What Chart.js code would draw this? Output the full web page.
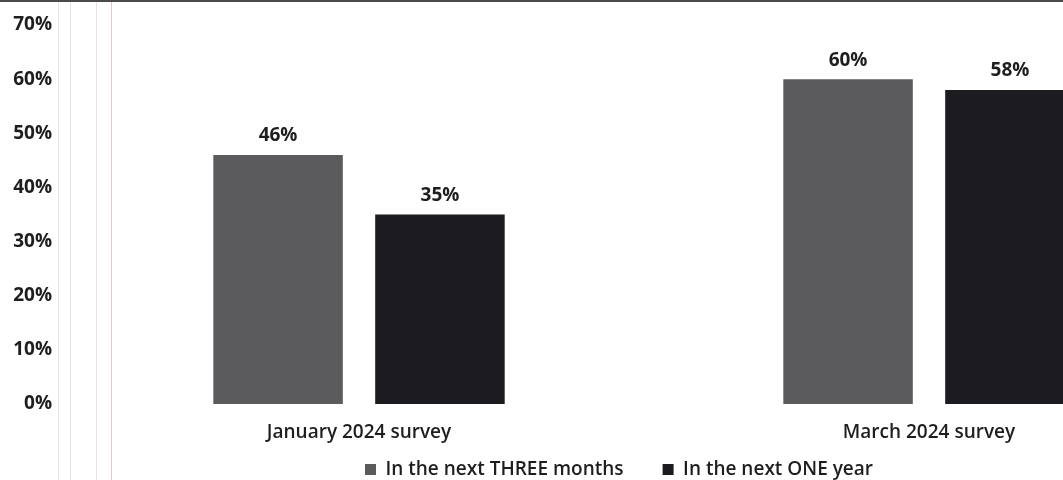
<!DOCTYPE html>
<html>
<head>
<meta charset="utf-8">
<script src="https://cdn.jsdelivr.net/npm/chart.js@4.4.1/dist/chart.umd.min.js"></script>
<style>
  html, body { margin: 0; padding: 0; background: #fff; overflow: hidden; }
  #wrap { width: 1220px; height: 489px; position: relative; }
</style>
</head>
<body>
<div id="wrap"><canvas id="surveyChart"></canvas></div>
<script>
const surveys = ['January 2024 survey', 'March 2024 survey'];
const threeMonths = [46, 60];
const oneYear = [35, 58];
const seriesNames = ['In the next THREE months', 'In the next ONE year'];

const FONT = '"Open Sans", "Noto Sans", sans-serif';

// value labels above each bar
const barLabels = {
  id: 'barLabels',
  afterDatasetsDraw(chart) {
    const ctx = chart.ctx;
    ctx.save();
    ctx.font = '700 19px ' + FONT;
    ctx.fillStyle = '#1e1e1e';
    ctx.textAlign = 'center';
    ctx.textBaseline = 'middle';
    chart.data.datasets.forEach((ds, i) => {
      chart.getDatasetMeta(i).data.forEach((bar, j) => {
        ctx.fillText(ds.data[j] + '%', bar.x, bar.y - 19);
      });
    });
    ctx.restore();
  }
};

// faint scan lines along the left margin and the dark top edge
const paperEdges = {
  id: 'paperEdges',
  afterLayout(chart) {
    // nudge the legend a little right of the canvas centre
    chart.legend.left += 12;
    chart.legend.right += 12;
  },
  beforeDraw(chart) {
    const ctx = chart.ctx;
    ctx.save();
    ctx.fillStyle = '#4a4a4a';
    ctx.fillRect(0, 0, chart.width, 2);
    [[58, 'rgba(230,200,210,0.5)'], [70, 'rgba(215,200,205,0.6)'],
     [96, 'rgba(225,195,205,0.55)'], [111, 'rgba(230,180,190,0.8)']].forEach(([x, c]) => {
      ctx.strokeStyle = c;
      ctx.lineWidth = 1;
      ctx.beginPath();
      ctx.moveTo(x + 0.5, 2);
      ctx.lineTo(x + 0.5, chart.height);
      ctx.stroke();
    });
    ctx.restore();
  }
};

new Chart(document.getElementById('surveyChart'), {
  type: 'bar',
  data: {
    labels: surveys,
    datasets: [
      {
        label: seriesNames[0],
        data: threeMonths,
        backgroundColor: '#5b5b5e',
        categoryPercentage: 0.568,
        barPercentage: 0.8
      },
      {
        label: seriesNames[1],
        data: oneYear,
        backgroundColor: '#1c1c20',
        categoryPercentage: 0.568,
        barPercentage: 0.8
      }
    ]
  },
  options: {
    responsive: true,
    maintainAspectRatio: false,
    animation: false,
    layout: { padding: { top: 25, right: 6, left: 0, bottom: 0 } },
    plugins: {
      tooltip: { enabled: false },
      legend: {
        position: 'bottom',
        labels: {
          usePointStyle: true,
          pointStyle: 'rect',
          boxWidth: 11,
          boxHeight: 11,
          padding: 39,
          color: '#1e1e1e',
          font: { family: FONT, size: 19, weight: '600' }
        }
      }
    },
    scales: {
      x: {
        grid: { display: false, drawTicks: false },
        border: { display: false },
        // labels sit below a thin axis box; mirrored so they aren't clipped to it
        afterFit(scale) { scale.height = 17; },
        ticks: {
          mirror: true,
          padding: -40,
          color: '#1e1e1e',
          font: { family: FONT, size: 19, weight: '600' }
        }
      },
      y: {
        min: 0,
        max: 70,
        grid: { display: false, drawTicks: false },
        border: { display: false },
        afterFit(scale) {
          scale.width = 74;
          scale.paddingTop = 0;   // top gap comes from layout.padding only
        },
        ticks: {
          stepSize: 10,
          padding: 22,
          color: '#1e1e1e',
          font: { family: FONT, size: 19, weight: '700' },
          callback: v => v + '%'
        }
      }
    }
  },
  plugins: [barLabels, paperEdges]
});
</script>
</body>
</html>
